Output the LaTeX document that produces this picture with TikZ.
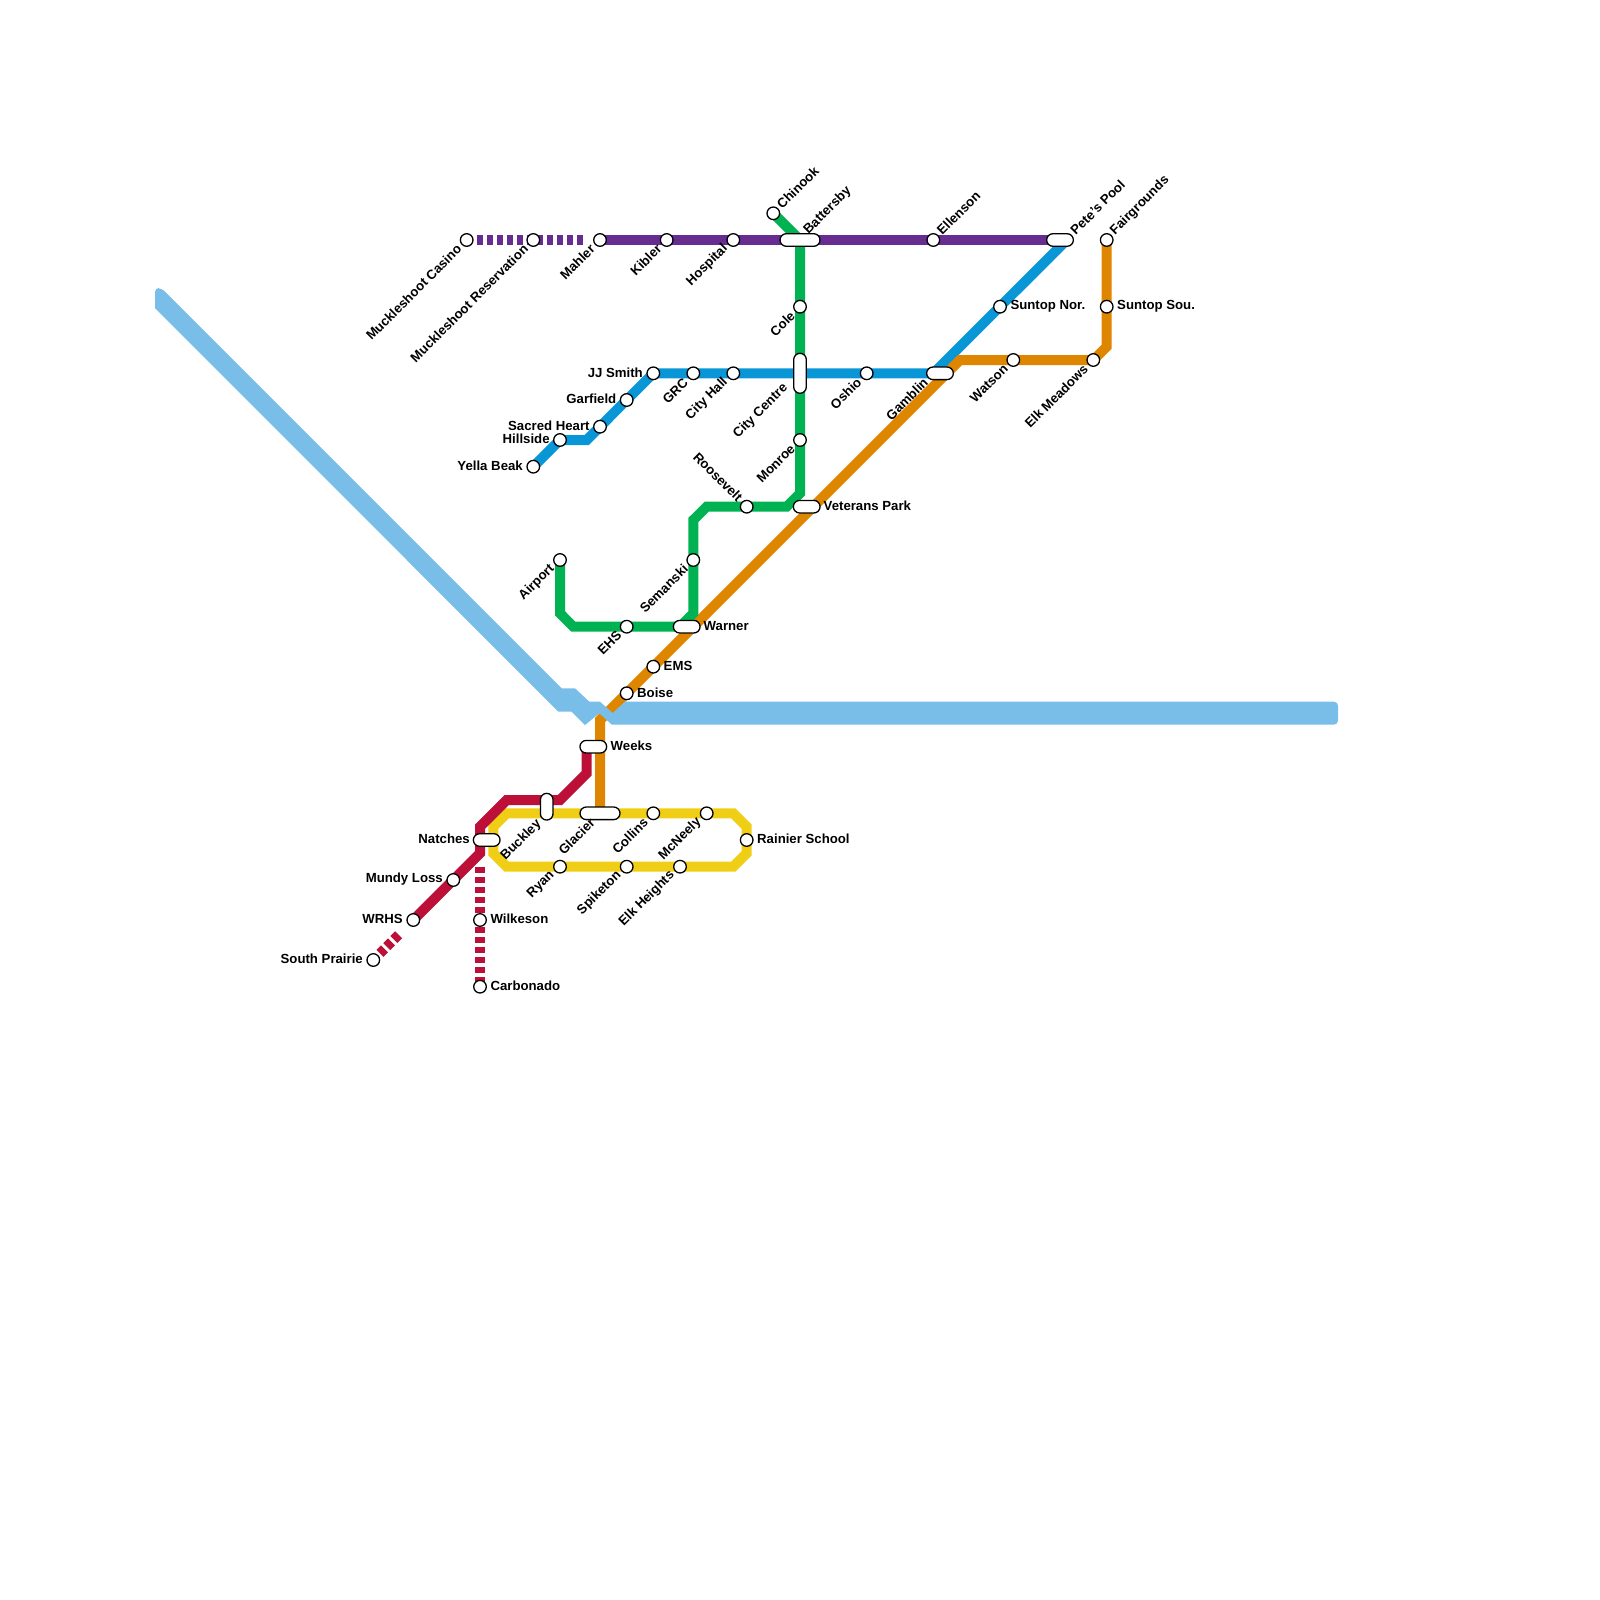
\documentclass[tikz,border=0pt]{standalone}
\usepackage{fontspec}
\setmainfont{Liberation Sans}
\usetikzlibrary{shapes.misc}
\pgfdeclarelayer{lines}
\pgfdeclarelayer{river}
\pgfsetlayers{lines,river,main}
\definecolor{cpurple}{HTML}{662C90}
\definecolor{cgreen}{HTML}{00B251}
\definecolor{cblue}{HTML}{0896D7}
\definecolor{corange}{HTML}{DF8600}
\definecolor{cred}{HTML}{BD1038}
\definecolor{cyellow}{HTML}{F0CE15}
\definecolor{criver}{HTML}{79BDE9}
\tikzset{
  stn/.style={circle,draw=black,fill=white,line width=1.3pt,minimum size=12.6pt,inner sep=0pt},
  pillh/.style={rounded rectangle,draw=black,fill=white,line width=1.3pt,minimum height=12.6pt,minimum width=#1,inner sep=0pt},
  pillv/.style={rounded rectangle,rotate=90,draw=black,fill=white,line width=1.3pt,minimum height=12.6pt,minimum width=#1,inner sep=0pt},
  lbl/.style={font=\bfseries\fontsize{13.2pt}{13.2pt}\selectfont,inner sep=0pt,text=black},
  lr/.style={lbl,anchor=west,yshift=0.4pt},
  ll/.style={lbl,anchor=east,yshift=0.4pt},
  lne/.style={lbl,xshift=1pt,yshift=1.5pt,rotate=45,anchor=west},
  lsw/.style={lbl,xshift=-2.3pt,yshift=-1.2pt,rotate=45,anchor=east},
  lnw/.style={lbl,xshift=-1pt,yshift=2pt,rotate=-45,anchor=east},
  metro/.style={line width=10pt,line join=miter,miter limit=2},
  dsh/.style={line width=10pt,dash pattern=on 6.67pt off 3.33pt}
}
\begin{document}
\begin{tikzpicture}[x=1pt,y=-1pt]
\useasboundingbox (0,0) rectangle (1600,1600);
% stations
\node[stn] (casino) at (466.7,240) {};
\node[stn] (reserv) at (533.3,240) {};
\node[stn] (mahler) at (600,240) {};
\node[stn] (kibler) at (666.7,240) {};
\node[stn] (hospital) at (733.3,240) {};
\node[stn] (chinook) at (773.3,213.3) {};
\node[pillh=40pt] (battersby) at (800,240) {};
\node[stn] (ellenson) at (933.3,240) {};
\node[pillh=26.7pt] (petes) at (1060,240) {};
\node[stn] (fair) at (1106.7,240) {};
\node[stn] (suntopn) at (1000,306.7) {};
\node[stn] (suntops) at (1106.7,306.7) {};
\node[stn] (elkm) at (1093.3,360) {};
\node[stn] (watson) at (1013.3,360) {};
\node[pillh=26.7pt] (gamblin) at (940,373.3) {};
\node[stn] (oshio) at (866.7,373.3) {};
\node[pillv=40pt] (citycentre) at (800,373.3) {};
\node[stn] (cole) at (800,306.7) {};
\node[stn] (monroe) at (800,440) {};
\node[pillh=26.7pt] (veterans) at (806.7,506.7) {};
\node[stn] (roosevelt) at (746.7,506.7) {};
\node[stn] (semanski) at (693.3,560) {};
\node[pillh=26.7pt] (warner) at (686.7,626.7) {};
\node[stn] (ehs) at (626.7,626.7) {};
\node[stn] (airport) at (560,560) {};
\node[stn] (jjsmith) at (653.3,373.3) {};
\node[stn] (grc) at (693.3,373.3) {};
\node[stn] (cityhall) at (733.3,373.3) {};
\node[stn] (garfield) at (626.7,400) {};
\node[stn] (sacred) at (600,426.7) {};
\node[stn] (hillside) at (560,440) {};
\node[stn] (yella) at (533.3,466.7) {};
\node[stn] (ems) at (653.3,666.7) {};
\node[stn] (boise) at (626.7,693.3) {};
\node[pillh=26.7pt] (weeks) at (593.3,746.7) {};
\node[pillv=26.7pt] (buckley) at (546.7,806.7) {};
\node[pillh=40pt] (glacier) at (600,813.3) {};
\node[stn] (collins) at (653.3,813.3) {};
\node[stn] (mcneely) at (706.7,813.3) {};
\node[stn] (rainier) at (746.7,840) {};
\node[stn] (ryan) at (560,866.7) {};
\node[stn] (spiketon) at (626.7,866.7) {};
\node[stn] (elkh) at (680,866.7) {};
\node[pillh=26.7pt] (natches) at (486.7,840) {};
\node[stn] (mundy) at (453.3,880) {};
\node[stn] (wrhs) at (413.3,920) {};
\node[stn] (prairie) at (373.3,960) {};
\node[stn] (wilkeson) at (480,920) {};
\node[stn] (carbonado) at (480,986.7) {};
% labels
\node[lsw] (tcasino) at (461.5,245.5) {Muckleshoot Casino};
\node[lsw] (treserv) at (528.1,245.5) {Muckleshoot Reservation};
\node[lsw] (tmahler) at (594.8,245.5) {Mahler};
\node[lsw] (tkibler) at (661.5,245.5) {Kibler};
\node[lsw] (thospital) at (728.1,245.5) {Hospital};
\node[lne] (tchinook) at (778,208) {Chinook};
\node[lne] (tbattersby) at (805,234) {Battersby};
\node[lne] (tellenson) at (938,234) {Ellenson};
\node[lne] (tpetes) at (1071.5,234) {Pete's Pool};
\node[lne] (tfair) at (1111.5,234.5) {Fairgrounds};
\node[lr] (tsuntopn) at (1010.3,306.2) {Suntop Nor.};
\node[lr] (tsuntops) at (1117,306.2) {Suntop Sou.};
\node[lsw] (telkm) at (1088,365.5) {Elk Meadows};
\node[lsw] (twatson) at (1008,365.5) {Watson};
\node[lsw] (tgamblin) at (928,379) {Gamblin};
\node[lsw] (toshio) at (861.5,379) {Oshio};
\node[lsw] (tcc) at (788,385) {City Centre};
\node[lsw] (tcole) at (795,312.5) {Cole};
\node[lsw] (tmonroe) at (795,445.5) {Monroe};
\node[lr] (tveterans) at (823.5,506.2) {Veterans Park};
\node[lnw] (troosevelt) at (741.5,501.5) {Roosevelt};
\node[lsw] (tsemanski) at (688,565.5) {Semanski};
\node[lr] (twarner) at (703.5,626.2) {Warner};
\node[lsw] (tehs) at (621.5,632) {EHS};
\node[lsw] (tairport) at (554.8,565.5) {Airport};
\node[ll] (tjj) at (643,373) {JJ Smith};
\node[lsw] (tgrc) at (688,379) {GRC};
\node[lsw] (tcityhall) at (728,379) {City Hall};
\node[ll] (tgarfield) at (616.5,399.5) {Garfield};
\node[ll] (tsacred) at (589.8,426.2) {Sacred Heart};
\node[ll] (thillside) at (549.8,439.5) {Hillside};
\node[ll] (tyella) at (523,466.2) {Yella Beak};
\node[lr] (tems) at (663.5,666.2) {EMS};
\node[lr] (tboise) at (637,692.8) {Boise};
\node[lr] (tweeks) at (610.5,746.2) {Weeks};
\node[lsw] (tbuckley) at (541.5,821) {Buckley};
\node[lsw] (tglacier) at (594.8,819) {Glacier};
\node[lsw] (tcollins) at (648,819) {Collins};
\node[lsw] (tmcneely) at (701.5,819) {McNeely};
\node[lr] (trainier) at (757,839.5) {Rainier School};
\node[lsw] (tryan) at (554.8,872) {Ryan};
\node[lsw] (tspiketon) at (621.5,872) {Spiketon};
\node[lsw] (telkh) at (674.8,872) {Elk Heights};
\node[ll] (tnatches) at (470,839.5) {Natches};
\node[ll] (tmundy) at (443,879.5) {Mundy Loss};
\node[ll] (twrhs) at (403,919.5) {WRHS};
\node[ll] (tprairie) at (363,959.5) {South Prairie};
\node[lr] (twilkeson) at (490.3,919.5) {Wilkeson};
\node[lr] (tcarbonado) at (490.3,986.2) {Carbonado};
% bends and free ends
\coordinate (b1) at (586.7,440);
\coordinate (pb) at (800,240);
\coordinate (pl) at (1053.3,240);
\coordinate (pr) at (1066.7,240);
\coordinate (gl) at (933.3,373.3);
\coordinate (gr) at (946.7,373.3);
\coordinate (o1) at (960,360);
\coordinate (o2) at (1106.7,346.7);
\coordinate (o3) at (600,720);
\coordinate (g1) at (800,493.3);
\coordinate (g2) at (786.7,506.7);
\coordinate (g3) at (706.7,506.7);
\coordinate (g4) at (693.3,520);
\coordinate (g5) at (693.3,613.3);
\coordinate (g6) at (680,626.7);
\coordinate (g7) at (573.3,626.7);
\coordinate (g8) at (560,613.3);
\coordinate (r1) at (586.7,746.7);
\coordinate (r2) at (586.7,773.3);
\coordinate (r3) at (560,800);
\coordinate (r4) at (506.7,800);
\coordinate (r5) at (480,826.7);
\coordinate (r6) at (480,853.3);
\coordinate (y1) at (506.7,813.3);
\coordinate (y2) at (493.3,826.7);
\coordinate (y3) at (493.3,853.3);
\coordinate (y4) at (506.7,866.7);
\coordinate (y5) at (733.3,866.7);
\coordinate (y6) at (746.7,853.3);
\coordinate (y7) at (746.7,826.7);
\coordinate (y8) at (733.3,813.3);
\coordinate (d1) at (476.7,240);
\coordinate (d2) at (583.4,240);
\coordinate (d3) at (480,866.7);
\coordinate (d4) at (398.6,934.8);
\coordinate (d5) at (380,953.4);
\begin{pgfonlayer}{lines}
\draw[metro,cyellow] (y1) -- (y8) -- (y7) -- (y6) -- (y5) -- (y4) -- (y3) -- (y2) -- cycle;
\draw[metro,cred] (r1) -- (r2) -- (r3) -- (r4) -- (r5) -- (r6) -- (wrhs.center);
\draw[dsh,cred] (d3) -- (carbonado.center);
\draw[dsh,cred] (d4) -- (d5);
\draw[dsh,cpurple] (d1) -- (d2);
\draw[metro,cpurple] (mahler.center) -- (pl);
\draw[metro,cblue] (yella.center) -- (hillside.center) -- (b1) -- (jjsmith.center) -- (gl) -- (pr);
\draw[metro,corange] (fair.center) -- (o2) -- (elkm.center) -- (o1) -- (gr) -- (o3) -- (glacier.center);
\draw[metro,cgreen] (chinook.center) -- (pb) -- (g1) -- (g2) -- (g3) -- (g4) -- (g5) -- (g6) -- (g7) -- (g8) -- (airport.center);
\end{pgfonlayer}
\begin{pgfonlayer}{river}
\fill[criver] (155,308) [rounded corners=4pt] -- (155,288) -- (161.7,288.3) [sharp corners] -- (561.7,688.3) -- (575,688.3) -- (589.3,701.7) -- (600,701.7) -- (612.7,713) -- (625,701.7) [rounded corners=4pt] -- (1338,701.7) -- (1338,724.6) [sharp corners] -- (611.7,724.6) -- (599.3,713.3) -- (585,725) -- (571.7,711.7) -- (558.3,711.7) -- cycle;
\end{pgfonlayer}
\end{tikzpicture}
\end{document}
